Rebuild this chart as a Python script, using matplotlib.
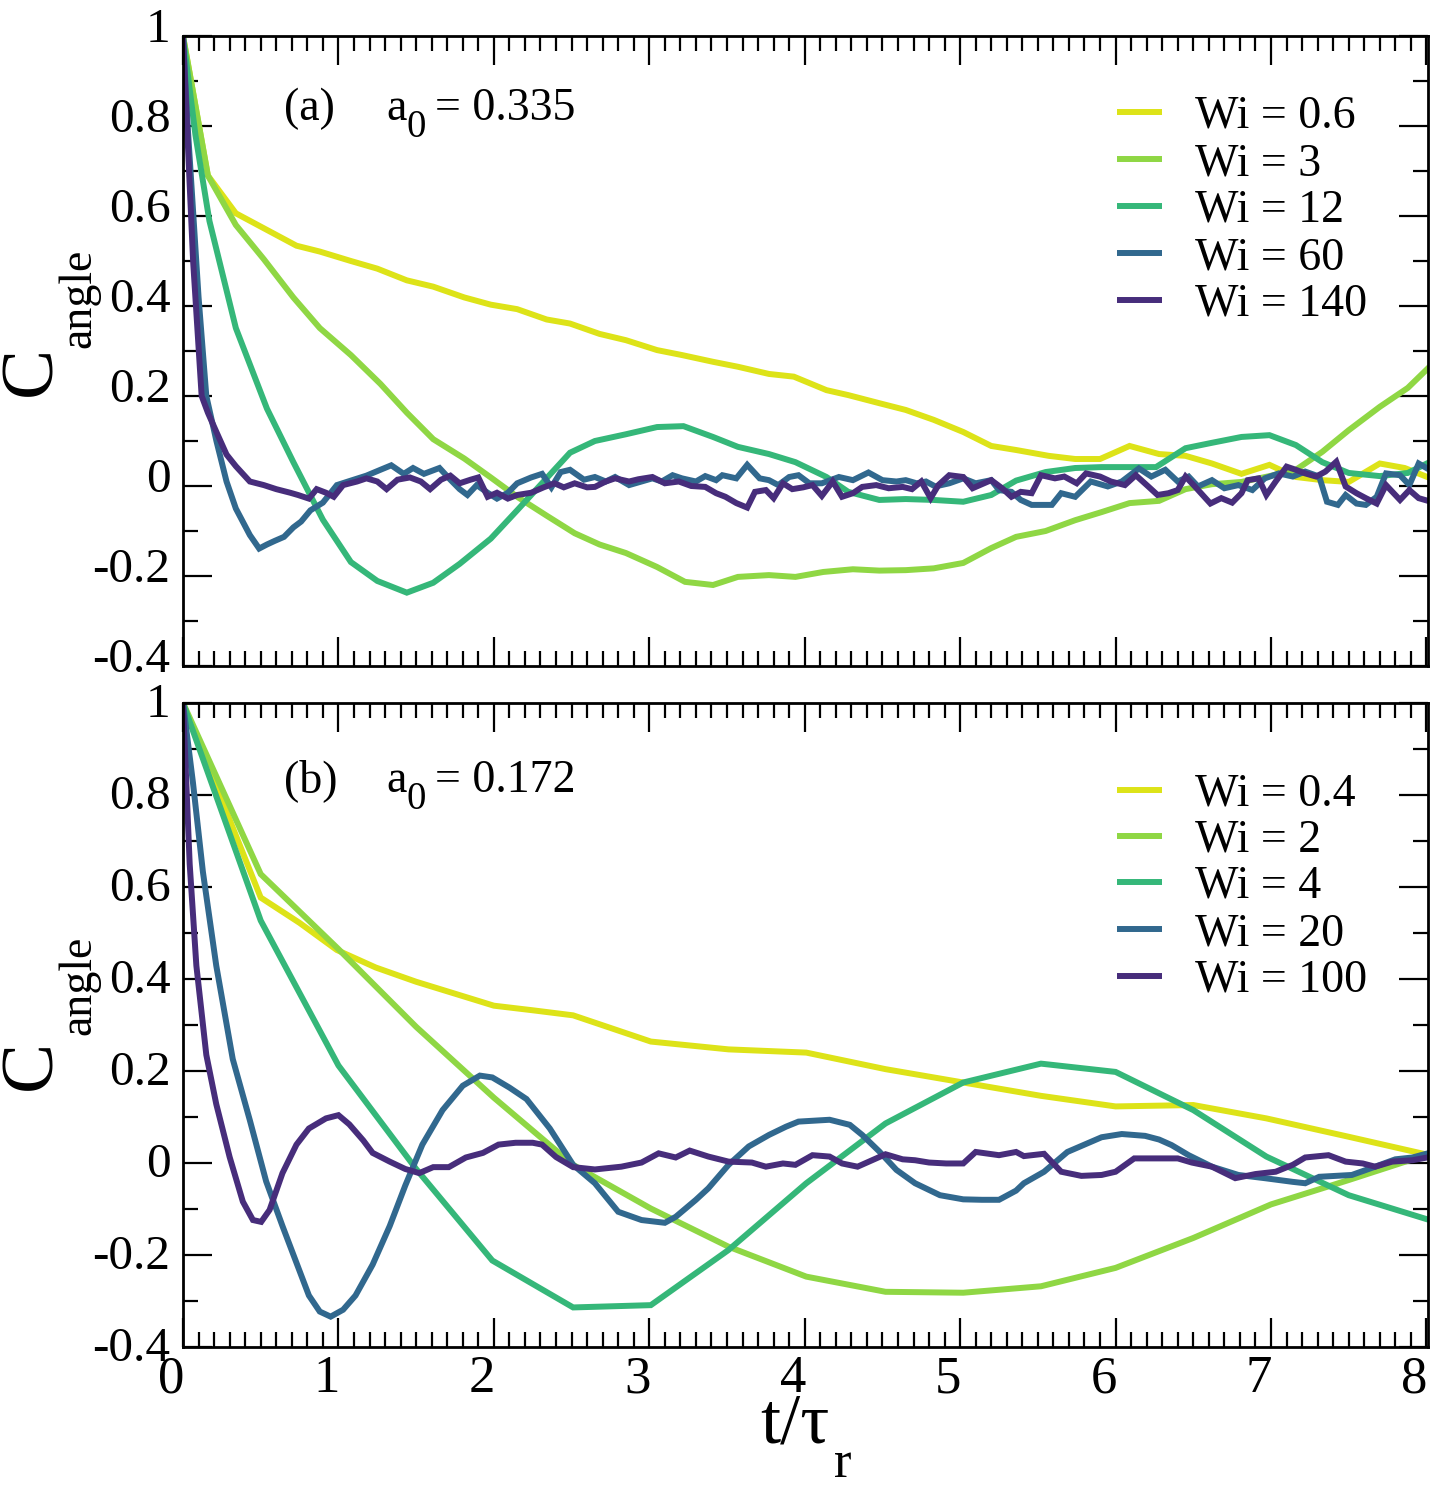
import matplotlib
matplotlib.use("Agg")
import matplotlib.pyplot as plt
import matplotlib.transforms as mtransforms
from matplotlib.ticker import MultipleLocator, FixedLocator, FixedFormatter

plt.rcParams.update({
    "font.family": ["Liberation Serif", "DejaVu Serif"],
    "mathtext.fontset": "custom",
    "mathtext.rm": "Liberation Serif",
    "mathtext.it": "Liberation Serif:italic",
    "mathtext.bf": "Liberation Serif:bold",
})

# ---------------- data: panel (a), a0 = 0.335 ----------------
a_labels = ["Wi = 0.6", "Wi = 3", "Wi = 12", "Wi = 60", "Wi = 140"]

a_t_w06 = [0, 0.16, 0.34, 0.73, 0.88, 1.08, 1.25, 1.44, 1.61, 1.81, 1.98, 2.15, 2.34, 2.49, 2.68,
           2.85, 3.05, 3.21, 3.41, 3.57, 3.77, 3.93, 4.14, 4.28, 4.48, 4.65, 4.83, 5.02, 5.2, 5.36,
           5.57, 5.74, 5.9, 6.09, 6.28, 6.45, 6.62, 6.81, 6.99, 7.16, 7.33, 7.5, 7.7, 7.86, 8.02]
a_c_w06 = [1.0, 0.69, 0.606, 0.534, 0.521, 0.5, 0.483, 0.457, 0.443, 0.419, 0.403, 0.393, 0.37, 0.361, 0.338,
           0.324, 0.302, 0.291, 0.276, 0.265, 0.249, 0.243, 0.213, 0.202, 0.184, 0.169, 0.147, 0.12, 0.089, 0.08,
           0.067, 0.06, 0.06, 0.089, 0.071, 0.067, 0.05, 0.027, 0.047, 0.02, 0.013, 0.009, 0.05, 0.04, 0.018]

a_t_w3 = [0, 0.16, 0.34, 0.52, 0.71, 0.88, 1.08, 1.27, 1.44, 1.61, 1.81, 1.98, 2.15, 2.34, 2.52, 2.68,
          2.85, 3.05, 3.23, 3.41, 3.57, 3.77, 3.94, 4.12, 4.31, 4.48, 4.65, 4.83, 5.02, 5.2, 5.36,
          5.55, 5.74, 5.91, 6.09, 6.28, 6.45, 6.62, 6.81, 6.99, 7.16, 7.33, 7.5, 7.7, 7.88, 8.02]
a_c_w3 = [1.0, 0.69, 0.58, 0.504, 0.419, 0.351, 0.291, 0.227, 0.163, 0.104, 0.061, 0.019, -0.024, -0.066, -0.105, -0.13,
          -0.149, -0.18, -0.213, -0.22, -0.202, -0.198, -0.202, -0.191, -0.185, -0.188, -0.187, -0.183, -0.171, -0.138, -0.113,
          -0.1, -0.076, -0.058, -0.038, -0.033, -0.007, 0.004, 0.009, 0.022, 0.036, 0.076, 0.124, 0.176, 0.218, 0.265]

a_t_w12 = [0, 0.08, 0.17, 0.34, 0.54, 0.71, 0.9, 1.08, 1.25, 1.44, 1.61, 1.78, 1.98, 2.15, 2.32, 2.49,
           2.65, 2.85, 3.05, 3.22, 3.41, 3.57, 3.77, 3.94, 4.14, 4.28, 4.48, 4.65, 4.83, 5.02, 5.2, 5.36,
           5.55, 5.74, 5.91, 6.09, 6.26, 6.45, 6.62, 6.81, 6.99, 7.16, 7.33, 7.5, 7.7, 7.88, 8.02]
a_c_w12 = [1.0, 0.78, 0.589, 0.351, 0.172, 0.053, -0.075, -0.169, -0.211, -0.237, -0.215, -0.173, -0.117, -0.054, 0.01, 0.074,
           0.1, 0.115, 0.131, 0.133, 0.109, 0.087, 0.071, 0.053, 0.02, -0.013, -0.031, -0.029, -0.031, -0.035, -0.02, 0.012,
           0.031, 0.04, 0.042, 0.042, 0.042, 0.084, 0.096, 0.109, 0.113, 0.091, 0.053, 0.029, 0.022, 0.029, 0.053]

a_t_w60 = [0, 0.03, 0.1, 0.15, 0.215, 0.28, 0.34, 0.43, 0.49, 0.54, 0.59, 0.65, 0.71, 0.76, 0.82, 0.9,
           0.99, 1.08, 1.18, 1.27, 1.34, 1.42, 1.48, 1.55, 1.65, 1.72, 1.78, 1.83, 1.89, 1.96, 2.02, 2.09,
           2.15, 2.24, 2.31, 2.37, 2.43, 2.49, 2.58, 2.65, 2.72, 2.78, 2.87, 2.95, 3.02, 3.08, 3.15, 3.21,
           3.3, 3.36, 3.43, 3.47, 3.56, 3.63, 3.71, 3.77, 3.83, 3.9, 3.96, 4.03, 4.11, 4.22, 4.31, 4.41,
           4.5, 4.59, 4.65, 4.72, 4.78, 4.84, 4.93, 5.02, 5.1, 5.2, 5.25, 5.33, 5.39, 5.46, 5.52, 5.59,
           5.65, 5.74, 5.84, 5.95, 6.04, 6.15, 6.23, 6.32, 6.4, 6.47, 6.53, 6.62, 6.7, 6.79, 6.88, 6.96,
           7.05, 7.14, 7.22, 7.31, 7.36, 7.43, 7.48, 7.55, 7.61, 7.68, 7.74, 7.83, 7.89, 7.95, 8.02]
a_c_w60 = [1.0, 0.8, 0.42, 0.2, 0.1, 0.01, -0.05, -0.109, -0.139, -0.13, -0.122, -0.113, -0.092, -0.079, -0.054, -0.037,
           0.002, 0.012, 0.023, 0.036, 0.046, 0.027, 0.04, 0.027, 0.04, 0.014, -0.007, -0.02, 0.002, -0.015, -0.028, -0.015,
           0.006, 0.019, 0.027, -0.003, 0.031, 0.036, 0.014, 0.02, 0.01, 0.02, 0.002, 0.01, 0.017, 0.01, 0.024, 0.017,
           0.01, 0.022, 0.013, 0.024, 0.017, 0.047, 0.017, 0.013, 0.002, 0.02, 0.024, 0.006, 0.006, 0.02, 0.013, 0.03,
           0.013, 0.01, 0.013, 0.006, 0.01, -0.001, 0.006, 0.017, 0.006, 0.013, -0.009, -0.013, -0.031, -0.042, -0.042, -0.042,
           -0.016, -0.024, 0.01, -0.001, 0.01, 0.039, 0.021, 0.036, 0.01, 0.021, -0.001, 0.013, -0.005, 0.002, -0.009, 0.017,
           0.028, 0.021, 0.032, 0.021, -0.035, -0.042, -0.02, -0.039, -0.042, -0.024, 0.028, 0.024, 0.002, 0.05, 0.036]

a_t_w140 = [0, 0.065, 0.12, 0.16, 0.215, 0.28, 0.34, 0.43, 0.52, 0.6, 0.69, 0.74, 0.81, 0.86, 0.92, 0.97,
            1.03, 1.12, 1.18, 1.25, 1.31, 1.38, 1.46, 1.53, 1.59, 1.66, 1.72, 1.78, 1.85, 1.9, 1.96, 2.02,
            2.09, 2.15, 2.24, 2.32, 2.39, 2.45, 2.52, 2.6, 2.65, 2.72, 2.78, 2.87, 2.93, 3.02, 3.1, 3.19,
            3.27, 3.36, 3.43, 3.49, 3.56, 3.63, 3.68, 3.75, 3.8, 3.86, 3.92, 3.99, 4.05, 4.11, 4.18, 4.24,
            4.31, 4.37, 4.46, 4.54, 4.63, 4.69, 4.75, 4.81, 4.86, 4.93, 5.02, 5.08, 5.2, 5.27, 5.33, 5.39,
            5.46, 5.52, 5.61, 5.67, 5.75, 5.81, 5.9, 5.97, 6.06, 6.13, 6.21, 6.27, 6.34, 6.4, 6.45, 6.51,
            6.61, 6.68, 6.75, 6.81, 6.85, 6.92, 6.97, 7.03, 7.1, 7.16, 7.22, 7.29, 7.35, 7.42, 7.48, 7.55,
            7.61, 7.68, 7.74, 7.83, 7.89, 7.95, 8.03]
a_c_w140 = [1.0, 0.5, 0.2, 0.163, 0.12, 0.07, 0.044, 0.01, 0.002, -0.007, -0.015, -0.02, -0.028, -0.007, -0.015, -0.024,
            0.002, 0.01, 0.017, 0.01, -0.007, 0.014, 0.019, 0.01, -0.007, 0.014, 0.023, 0.006, 0.014, 0.019, -0.024, -0.015,
            -0.028, -0.02, -0.015, -0.003, 0.006, -0.003, 0.006, -0.003, -0.002, 0.01, 0.017, 0.01, 0.015, 0.02, 0.006, 0.01,
            0.0, -0.002, -0.016, -0.024, -0.038, -0.048, -0.013, -0.009, -0.027, 0.006, -0.007, -0.003, 0.002, -0.022, 0.01, -0.024,
            -0.016, -0.002, 0.002, -0.005, -0.002, -0.007, 0.01, -0.027, 0.002, 0.024, 0.02, -0.005, 0.013, -0.005, -0.024, -0.013,
            -0.016, 0.024, 0.017, 0.021, 0.006, 0.028, 0.021, 0.01, 0.002, 0.024, -0.001, -0.02, -0.016, -0.009, 0.021, -0.001,
            -0.039, -0.027, -0.037, -0.016, 0.013, 0.017, -0.02, 0.01, 0.043, 0.036, 0.028, 0.021, 0.032, 0.054, -0.001, -0.016,
            -0.027, -0.039, 0.002, -0.031, -0.009, -0.027, -0.035]

# ---------------- data: panel (b), a0 = 0.172 ----------------
b_labels = ["Wi = 0.4", "Wi = 2", "Wi = 4", "Wi = 20", "Wi = 100"]

b_t_w04 = [0, 0.5, 0.75, 0.99, 1.24, 1.5, 1.76, 2.0, 2.25, 2.51, 3.01, 3.51, 4.01, 4.52, 5.02, 5.52, 6.0,
           6.5, 6.97, 7.5, 8.02]
b_c_w04 = [1.0, 0.577, 0.522, 0.463, 0.425, 0.394, 0.367, 0.342, 0.332, 0.321, 0.264, 0.247, 0.24, 0.204, 0.175,
           0.146, 0.123, 0.126, 0.097, 0.057, 0.017]

b_t_w2 = [0, 0.5, 1.0, 1.5, 2.0, 2.51, 3.01, 3.51, 4.01, 4.52, 5.02, 5.52, 6.0, 6.5, 7.0, 7.5, 8.02]
b_c_w2 = [1.0, 0.628, 0.465, 0.296, 0.142, -0.004, -0.099, -0.182, -0.247, -0.28, -0.282, -0.268, -0.228,
          -0.163, -0.09, -0.037, 0.02]

b_t_w4 = [0, 0.5, 1.0, 1.5, 1.99, 2.51, 3.01, 3.51, 4.01, 4.52, 5.02, 5.52, 6.0, 6.5, 6.97, 7.5, 8.02]
b_c_w4 = [1.0, 0.527, 0.212, -0.013, -0.212, -0.314, -0.309, -0.189, -0.044, 0.086, 0.175, 0.216, 0.198,
          0.115, 0.014, -0.07, -0.124]

b_t_w20 = [0, 0.064, 0.128, 0.214, 0.32, 0.43, 0.535, 0.64, 0.73, 0.81, 0.88, 0.95, 1.03, 1.11, 1.22, 1.33,
           1.43, 1.54, 1.67, 1.8, 1.91, 1.99, 2.1, 2.21, 2.36, 2.51, 2.65, 2.72, 2.8, 2.95, 3.1, 3.17,
           3.3, 3.38, 3.51, 3.64, 3.77, 3.88, 3.96, 4.16, 4.29, 4.37, 4.48, 4.59, 4.71, 4.87, 5.02, 5.14,
           5.25, 5.36, 5.41, 5.54, 5.69, 5.91, 6.04, 6.19, 6.28, 6.36, 6.47, 6.62, 6.79, 6.96, 7.14, 7.22,
           7.31, 7.52, 7.67, 7.8, 7.91, 8.02]
b_c_w20 = [1.0, 0.827, 0.633, 0.429, 0.226, 0.093, -0.04, -0.137, -0.217, -0.288, -0.323, -0.334, -0.319, -0.288, -0.221, -0.137,
           -0.049, 0.04, 0.115, 0.168, 0.19, 0.186, 0.164, 0.139, 0.075, -0.004, -0.044, -0.073, -0.106, -0.124, -0.13, -0.117,
           -0.08, -0.055, -0.004, 0.036, 0.061, 0.079, 0.09, 0.094, 0.083, 0.061, 0.025, -0.015, -0.044, -0.07, -0.079, -0.08,
           -0.08, -0.06, -0.044, -0.019, 0.024, 0.056, 0.063, 0.059, 0.051, 0.039, 0.017, -0.008, -0.026, -0.033, -0.041, -0.044,
           -0.03, -0.026, -0.008, 0.008, 0.012, 0.022]

b_t_w100 = [0, 0.043, 0.086, 0.15, 0.214, 0.3, 0.385, 0.45, 0.503, 0.557, 0.64, 0.73, 0.81, 0.92, 1.0, 1.07,
            1.16, 1.22, 1.33, 1.43, 1.52, 1.61, 1.71, 1.82, 1.93, 2.03, 2.14, 2.25, 2.31, 2.4, 2.51, 2.65,
            2.82, 2.95, 3.06, 3.17, 3.26, 3.38, 3.51, 3.66, 3.75, 3.86, 3.94, 4.05, 4.16, 4.24, 4.34, 4.46,
            4.52, 4.63, 4.71, 4.8, 4.91, 5.02, 5.1, 5.25, 5.36, 5.41, 5.54, 5.65, 5.78, 5.91, 6.0, 6.12,
            6.25, 6.4, 6.49, 6.62, 6.77, 6.9, 7.03, 7.14, 7.22, 7.37, 7.48, 7.59, 7.67, 7.78, 7.91, 8.02]
b_c_w100 = [1.0, 0.65, 0.429, 0.235, 0.128, 0.013, -0.084, -0.124, -0.128, -0.102, -0.022, 0.04, 0.075, 0.097, 0.104, 0.084,
            0.049, 0.022, 0.003, -0.013, -0.022, -0.009, -0.009, 0.012, 0.022, 0.04, 0.044, 0.044, 0.04, 0.013, -0.009, -0.014,
            -0.008, 0.001, 0.021, 0.012, 0.027, 0.014, 0.003, 0.001, -0.008, -0.001, -0.004, 0.017, 0.014, -0.001, -0.008, 0.01,
            0.019, 0.008, 0.006, 0.001, -0.001, -0.001, 0.024, 0.017, 0.024, 0.015, 0.02, -0.019, -0.028, -0.026, -0.019, 0.01,
            0.01, 0.01, 0.001, -0.008, -0.033, -0.024, -0.019, -0.004, 0.012, 0.017, 0.003, -0.001, -0.008, 0.003, 0.006, 0.013]

colors = ["#dde318", "#8fd744", "#35b779", "#31688e", "#472d7b"]
ytick_vals = [-0.4, -0.2, 0.0, 0.2, 0.4, 0.6, 0.8, 1.0]
ytick_text = ["-0.4", "-0.2", "0", "0.2", "0.4", "0.6", "0.8", "1"]

a_series = [(a_t_w06, a_c_w06), (a_t_w3, a_c_w3), (a_t_w12, a_c_w12), (a_t_w60, a_c_w60), (a_t_w140, a_c_w140)]
b_series = [(b_t_w04, b_c_w04), (b_t_w2, b_c_w2), (b_t_w4, b_c_w4), (b_t_w20, b_c_w20), (b_t_w100, b_c_w100)]

W, H = 1436, 1488
fig = plt.figure(figsize=(W / 100, H / 100), dpi=100)
# axes boxes in pixels: (left, top, width, height)
A1 = (183, 36, 1245, 630)
A2 = (183, 703, 1245, 644)
ax1 = fig.add_axes([A1[0] / W, 1 - (A1[1] + A1[3]) / H, A1[2] / W, A1[3] / H])
ax2 = fig.add_axes([A2[0] / W, 1 - (A2[1] + A2[3]) / H, A2[2] / W, A2[3] / H])

LW = 4.3


def fx(box, px):
    return (px - box[0]) / box[2]


def fy(box, py):
    return 1 - (py - box[1]) / box[3]


def style(ax, show_x):
    ax.set_xlim(0, 8.01)
    ax.set_ylim(-0.4, 1.0)
    ax.xaxis.set_major_locator(MultipleLocator(1))
    ax.xaxis.set_minor_locator(MultipleLocator(0.1))
    ax.yaxis.set_major_locator(FixedLocator(ytick_vals))
    ax.yaxis.set_major_formatter(FixedFormatter(ytick_text))
    ax.yaxis.set_minor_locator(MultipleLocator(0.1))
    ax.tick_params(which="both", direction="in", top=True, right=True, width=1.6, color="black")
    ax.tick_params(which="major", length=21)
    ax.tick_params(which="minor", length=11)
    ax.tick_params(axis="y", labelsize=35.5, pad=9)
    ax.tick_params(axis="x", labelsize=38, pad=6, labelbottom=show_x)
    for s in ax.spines.values():
        s.set_linewidth(2.0)


def legend(ax, box, labels, line_px):
    for i, lab in enumerate(labels):
        yl = fy(box, line_px[i])
        yb = fy(box, line_px[i] + 16)
        ax.plot([fx(box, 1117), fx(box, 1162)], [yl, yl], transform=ax.transAxes, color=colors[i], lw=LW,
                solid_capstyle="butt", clip_on=False)
        ax.text(fx(box, 1195), yb, lab, transform=ax.transAxes, fontsize=33, va="baseline", ha="left")


def annotate(ax, box, tag, value, base_px):
    tr = ax.transAxes
    ax.text(fx(box, 284), fy(box, base_px), tag, transform=tr, fontsize=33, va="baseline")
    ax.text(fx(box, 386), fy(box, base_px), "a", transform=tr, fontsize=33, va="baseline")
    ax.text(fx(box, 406), fy(box, base_px + 17), "0", transform=tr, fontsize=28, va="baseline")
    ax.text(fx(box, 435), fy(box, base_px), "= " + value, transform=tr, fontsize=33, va="baseline")


def ylab(ax, box, c_center, sub_center):
    ax.set_ylabel("C", fontsize=54, va="center")
    ax.yaxis.set_label_coords(fx(box, c_center[0]), fy(box, c_center[1]))
    ax.text(fx(box, sub_center[0]), fy(box, sub_center[1]), "angle", transform=ax.transAxes,
            fontsize=33, rotation=90, ha="center", va="center")


for ax, series in ((ax1, a_series), (ax2, b_series)):
    for (t, c), col in zip(series, colors):
        ax.plot(t, c, color=col, lw=LW, solid_joinstyle="miter")

style(ax1, False)
style(ax2, True)

legend(ax1, A1, a_labels, [112, 159, 206, 253, 300])
legend(ax2, A2, b_labels, [790, 836, 882, 929, 976])

annotate(ax1, A1, "(a)", "0.335", 120)
annotate(ax2, A2, "(b)", "0.172", 792)

ylab(ax1, A1, (33, 371), (79, 298))
ylab(ax2, A2, (33, 1065), (79, 985))

ax2.set_xlabel("t/τ", fontsize=52, va="baseline")
ax2.xaxis.set_label_coords(fx(A2, 795), fy(A2, 1443))
ax2.text(fx(A2, 834), fy(A2, 1477), "r", transform=ax2.transAxes, fontsize=38, va="baseline")

# xmgrace-like label offsets (top panel labels sit above their ticks)
up_top = mtransforms.ScaledTranslation(0, 11 / 100, fig.dpi_scale_trans)
up_bot = mtransforms.ScaledTranslation(0, 3 / 100, fig.dpi_scale_trans)
left = mtransforms.ScaledTranslation(-12 / 100, 0, fig.dpi_scale_trans)
for ax, off in ((ax1, up_top), (ax2, up_bot)):
    for lab in ax.get_yticklabels():
        lab.set_transform(lab.get_transform() + off)
for lab in ax2.get_xticklabels():
    lab.set_transform(lab.get_transform() + left)

fig.savefig("out.png", dpi=100)
